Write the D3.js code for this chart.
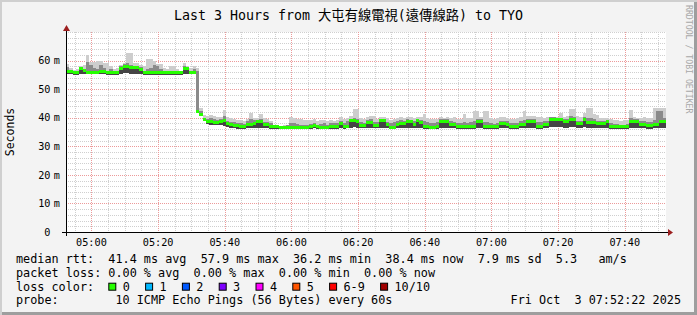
<!DOCTYPE html>
<html>
<head>
<meta charset="utf-8">
<script src="https://cdn.jsdelivr.net/npm/d3@7"></script>
<style>
  html, body { margin: 0; padding: 0; background: #f3f3f3; }
  svg { display: block; }
  text { font-family: "DejaVu Sans Mono", "Noto Sans CJK TC", monospace; white-space: pre; }
</style>
</head>
<body>
<svg id="chart" width="697" height="315"></svg>
<script>
// One value per 60 s step, 04:52:22 -> 07:52:22 (ms)
const START = new Date(2025, 9, 3, 4, 52, 22);
const STEP_SECONDS = 60;

const MEDIAN_MS = [
  56.2, 56.2, 55.7, 55.7, 57.4, 56.5, 55.8, 55.8, 55.8, 55.8,
  56.1, 56.1, 55.7, 55.7, 55.7, 55.7, 57.1, 57.8, 57.8, 57.5,
  57.5, 57.5, 57.0, 55.7, 55.7, 55.7, 55.7, 55.7, 55.7, 55.7,
  55.7, 55.7, 55.7, 55.7, 55.7, 57.3, 57.3, 56.0, 56.0, 42.3,
  41.2, 39.5, 38.6, 38.8, 38.5, 38.3, 38.8, 39.0, 37.9, 37.6,
  37.4, 37.2, 36.9, 36.9, 37.8, 37.8, 38.1, 38.6, 38.6, 37.6,
  37.5, 37.0, 36.8, 36.8, 36.7, 36.7, 36.7, 36.7, 36.7, 36.7,
  36.7, 36.7, 36.7, 36.8, 37.4, 36.8, 36.7, 36.7, 36.7, 36.8,
  36.8, 36.8, 37.9, 36.8, 37.0, 38.9, 38.9, 38.7, 37.2, 37.2,
  38.4, 38.4, 37.2, 37.2, 38.9, 38.9, 37.5, 36.7, 36.7, 37.8,
  38.0, 38.0, 38.7, 38.7, 37.5, 38.9, 38.2, 36.9, 36.8, 36.7,
  36.7, 36.8, 38.8, 38.8, 38.8, 37.8, 37.6, 36.8, 36.8, 36.8,
  36.8, 36.8, 36.8, 38.8, 38.8, 36.8, 36.8, 36.8, 36.8, 36.8,
  38.0, 38.0, 37.8, 36.8, 36.8, 36.8, 37.8, 37.8, 38.8, 38.8,
  38.8, 36.8, 36.8, 37.8, 37.8, 39.5, 39.5, 39.3, 39.3, 38.8,
  38.8, 39.5, 39.5, 38.0, 38.0, 39.4, 38.5, 38.5, 38.5, 37.9,
  37.9, 37.9, 38.7, 36.9, 36.9, 36.9, 36.8, 36.8, 36.8, 38.8,
  38.8, 38.8, 37.8, 37.8, 37.3, 37.3, 37.8, 37.8, 38.8, 38.8,
];

// Smoke: lowest ping, top of the darker band, highest ping
const SMOKE_LO_MS = [
  55.2, 55.2, 55.0, 55.0, 55.3, 55.3, 55.2, 55.2, 55.2, 55.2,
  55.4, 55.4, 55.1, 55.1, 55.1, 55.1, 55.3, 55.5, 55.5, 55.4,
  55.4, 55.4, 55.2, 55.1, 55.1, 55.1, 55.1, 55.1, 55.1, 55.1,
  55.1, 55.1, 55.1, 55.1, 55.1, 55.4, 55.4, 55.2, 55.2, 41.5,
  40.5, 38.8, 37.8, 37.6, 37.5, 37.4, 37.3, 37.0, 36.6, 36.4,
  36.3, 36.2, 36.2, 36.2, 36.3, 36.4, 36.4, 36.5, 36.4, 36.3,
  36.3, 36.2, 36.2, 36.2, 36.2, 36.2, 36.2, 36.2, 36.2, 36.2,
  36.2, 36.2, 36.2, 36.2, 36.3, 36.2, 36.2, 36.2, 36.2, 36.2,
  36.2, 36.2, 36.4, 36.2, 36.3, 36.5, 36.6, 36.5, 36.3, 36.3,
  36.4, 36.4, 36.3, 36.3, 36.5, 36.5, 36.3, 36.2, 36.2, 36.3,
  36.4, 36.4, 36.5, 36.5, 36.3, 36.5, 36.4, 36.2, 36.2, 36.2,
  36.2, 36.2, 36.4, 36.4, 36.4, 36.3, 36.3, 36.2, 36.2, 36.2,
  36.2, 36.2, 36.2, 36.4, 36.4, 36.2, 36.2, 36.2, 36.2, 36.2,
  36.3, 36.3, 36.3, 36.2, 36.2, 36.2, 36.3, 36.3, 36.4, 36.4,
  36.4, 36.2, 36.2, 36.3, 36.3, 36.6, 36.6, 36.6, 36.6, 36.4,
  36.4, 36.6, 36.6, 36.4, 36.4, 36.6, 36.4, 36.4, 36.4, 36.3,
  36.3, 36.3, 36.4, 36.2, 36.2, 36.2, 36.2, 36.2, 36.2, 36.4,
  36.4, 36.4, 36.3, 36.3, 36.2, 36.2, 36.3, 36.3, 36.4, 36.4,
];

const SMOKE_MID_MS = [
  57.8, 56.8, 56.2, 56.2, 57.8, 57.2, 59.5, 58.5, 57.5, 57.0,
  58.5, 57.5, 56.5, 57.2, 56.2, 56.5, 58.2, 58.8, 59.0, 58.5,
  58.2, 58.0, 57.6, 56.3, 57.0, 57.5, 58.5, 58.0, 57.0, 56.3,
  56.2, 56.5, 56.2, 56.2, 56.0, 58.0, 57.6, 56.5, 57.0, 56.5,
  42.5, 40.0, 39.6, 39.8, 39.5, 39.3, 39.6, 40.5, 39.0, 38.6,
  38.4, 38.3, 38.0, 37.8, 38.8, 39.4, 39.3, 39.3, 39.6, 38.6,
  38.5, 38.0, 37.2, 37.1, 37.1, 37.2, 37.3, 38.3, 38.0, 37.8,
  37.4, 37.3, 37.4, 37.8, 38.2, 37.5, 37.8, 38.2, 37.5, 38.2,
  38.0, 38.2, 38.8, 38.3, 38.7, 39.6, 40.0, 39.5, 38.6, 38.3,
  39.2, 39.4, 38.6, 38.4, 39.6, 39.5, 38.6, 38.2, 38.4, 38.8,
  39.2, 39.0, 39.4, 39.3, 38.8, 39.6, 39.2, 39.0, 38.4, 38.2,
  38.3, 38.4, 39.5, 39.4, 39.4, 38.8, 38.6, 38.2, 38.0, 38.6,
  38.3, 38.4, 39.0, 39.6, 39.5, 38.6, 38.6, 38.0, 37.8, 38.2,
  39.0, 39.0, 38.8, 38.2, 38.0, 38.2, 38.8, 39.2, 39.6, 39.6,
  39.5, 38.4, 38.6, 38.8, 38.8, 40.2, 40.2, 40.0, 40.0, 39.6,
  39.6, 40.5, 40.3, 39.0, 39.0, 40.2, 40.0, 40.0, 39.5, 39.0,
  38.8, 38.8, 39.3, 38.0, 37.8, 37.8, 37.6, 37.6, 37.8, 39.8,
  39.6, 39.5, 38.8, 38.8, 38.4, 38.4, 39.2, 42.3, 42.5, 40.0,
];

const SMOKE_HI_MS = [
  58.8, 57.5, 56.8, 57.0, 58.0, 58.5, 62.0, 59.5, 59.5, 60.0,
  60.0, 59.0, 59.0, 58.0, 57.0, 57.5, 58.5, 59.2, 62.6, 62.6,
  59.0, 59.0, 58.5, 58.0, 60.4, 60.4, 60.0, 58.8, 58.8, 57.5,
  57.0, 58.0, 58.0, 57.0, 56.5, 59.0, 58.0, 57.5, 58.0, 57.5,
  43.5, 40.8, 40.6, 40.8, 40.5, 40.2, 40.4, 42.7, 40.2, 39.8,
  39.4, 39.3, 39.2, 39.0, 39.6, 41.6, 40.0, 40.0, 41.3, 39.8,
  39.5, 39.0, 37.3, 37.2, 37.2, 37.3, 37.4, 40.2, 39.8, 39.6,
  39.5, 39.3, 39.2, 39.3, 39.5, 39.0, 39.3, 39.2, 38.8, 39.3,
  39.0, 39.3, 40.2, 39.5, 39.8, 40.5, 43.0, 43.0, 40.0, 39.6,
  40.3, 40.7, 40.7, 39.6, 40.3, 40.3, 39.8, 39.2, 39.5, 39.8,
  40.2, 40.0, 40.3, 40.2, 39.8, 40.4, 40.2, 41.3, 39.8, 39.5,
  39.5, 39.6, 40.3, 40.0, 40.2, 40.0, 40.3, 39.6, 39.4, 41.3,
  39.8, 40.0, 42.5, 42.5, 40.2, 42.2, 42.2, 39.8, 39.6, 39.8,
  40.3, 40.2, 40.0, 39.6, 39.5, 40.0, 40.3, 42.5, 40.5, 40.6,
  40.5, 40.2, 40.3, 40.0, 40.2, 40.4, 40.4, 40.4, 41.8, 40.4,
  40.6, 43.0, 43.0, 40.5, 40.2, 41.8, 43.3, 43.3, 41.3, 41.0,
  40.0, 40.0, 40.0, 39.6, 39.3, 39.3, 39.0, 39.2, 39.3, 42.6,
  40.2, 40.0, 39.8, 40.3, 39.8, 40.0, 43.3, 43.3, 43.3, 43.3,
];

const TITLE = 'Last 3 Hours from 大屯有線電視(遠傳線路) to TYO';
const Y_TITLE = 'Seconds';
const STATS_LINES = [
  'median rtt:  41.4 ms avg  57.9 ms max  36.2 ms min  38.4 ms now  7.9 ms sd  5.3   am/s',
  'packet loss: 0.00 % avg  0.00 % max  0.00 % min  0.00 % now',
];
const LOSS_LABELS = ['0', '1', '2', '3', '4', '5', '6-9', '10/10'];
const LOSS_COLORS = ['#26ff00', '#00b8ff', '#0059ff', '#7e00ff', '#ff00ff', '#ff5500', '#ff0000', '#a00000'];
const PROBE_LINE = 'probe:        10 ICMP Echo Pings (56 Bytes) every 60s';
const DATE_LINE = 'Fri Oct  3 07:52:22 2025';

const W = 697, H = 315;
const plot = {left: 66, right: 666, top: 32, bottom: 232};
const CHAR_W = 7.1; // legend monospace advance

const svg = d3.select('#chart');

// frame
svg.append('rect').attr('width', W).attr('height', H).attr('fill', '#f3f3f3');
svg.append('rect').attr('width', W).attr('height', 2).attr('fill', '#cfcfcf');
svg.append('rect').attr('width', 2).attr('height', H).attr('fill', '#cfcfcf');
svg.append('rect').attr('x', 2).attr('y', H - 3).attr('width', W - 2).attr('height', 3).attr('fill', '#9e9e9e');
svg.append('rect').attr('x', W - 3).attr('y', 2).attr('width', 3).attr('height', H - 2).attr('fill', '#9e9e9e');

svg.append('rect')
  .attr('x', plot.left).attr('y', plot.top)
  .attr('width', plot.right - plot.left).attr('height', plot.bottom - plot.top)
  .attr('fill', '#ffffff');

const n = MEDIAN_MS.length;
const stepTime = (k) => new Date(START.getTime() + k * STEP_SECONDS * 1000);

const x = d3.scaleTime()
  .domain([START, stepTime(n)])
  .range([plot.left, plot.right]);

const y = d3.scaleLinear()
  .domain([0, 70])
  .range([plot.bottom, plot.top]);

const px = (v) => Math.round(v) + 0.5;

// grid
const grid = svg.append('g').attr('stroke-width', 1).attr('stroke-dasharray', '1,1');

const minorY = y.ticks(35).filter((v) => v % 10 !== 0 || v === 70);
const majorY = y.ticks(7).filter((v) => v > 0 && v < 70);
const minorX = x.ticks(d3.timeMinute.every(5));
const majorX = x.ticks(d3.timeMinute.every(20));

grid.selectAll('.minor-y')
  .data(minorY)
  .join('line')
    .attr('x1', plot.left).attr('x2', plot.right)
    .attr('y1', (d) => px(y(d))).attr('y2', (d) => px(y(d)))
    .attr('stroke', '#cfcfcf');

grid.selectAll('.minor-x')
  .data(minorX.filter((t) => t.getMinutes() % 20 !== 0))
  .join('line')
    .attr('x1', (d) => px(x(d))).attr('x2', (d) => px(x(d)))
    .attr('y1', plot.top).attr('y2', plot.bottom)
    .attr('stroke', '#cfcfcf');

grid.selectAll('.major-y')
  .data(majorY)
  .join('line')
    .attr('x1', plot.left).attr('x2', plot.right)
    .attr('y1', (d) => px(y(d))).attr('y2', (d) => px(y(d)))
    .attr('stroke', '#ec9a9a');

grid.selectAll('.major-x')
  .data(majorX)
  .join('line')
    .attr('x1', (d) => px(x(d))).attr('x2', (d) => px(x(d)))
    .attr('y1', plot.top).attr('y2', plot.bottom)
    .attr('stroke', '#ec9a9a');

// smoke
const rows = d3.range(n + 1).map((k) => {
  const i = Math.min(k, n - 1);
  return {t: stepTime(k), med: MEDIAN_MS[i], lo: SMOKE_LO_MS[i], mid: SMOKE_MID_MS[i], hi: SMOKE_HI_MS[i]};
});

const band = (top) => d3.area()
  .curve(d3.curveStepAfter)
  .x((d) => x(d.t))
  .y0((d) => y(d.lo))
  .y1((d) => y(d[top]));

const smoke = svg.append('g').attr('shape-rendering', 'crispEdges');
smoke.append('path').datum(rows).attr('d', band('hi')).attr('fill', '#cdcdcd');
smoke.append('path').datum(rows).attr('d', band('mid')).attr('fill', '#8a8a8a');
smoke.append('path').datum(rows).attr('d', band('med')).attr('fill', '#454545');

// median, coloured by loss (all 0 % here)
svg.append('g')
  .attr('shape-rendering', 'crispEdges')
  .selectAll('rect')
  .data(rows.slice(0, n))
  .join('rect')
    .attr('x', (d, i) => x(d.t))
    .attr('width', (d, i) => x(rows[i + 1].t) - x(d.t))
    .attr('y', (d) => y(d.med) - 1.5)
    .attr('height', 3)
    .attr('fill', LOSS_COLORS[0]);

// axes
const axis = svg.append('g').attr('stroke', '#000').attr('stroke-width', 1);
axis.append('line').attr('x1', plot.left - 4).attr('x2', plot.right + 4)
  .attr('y1', plot.bottom + 0.5).attr('y2', plot.bottom + 0.5);
axis.append('line').attr('x1', plot.left + 0.5).attr('x2', plot.left + 0.5)
  .attr('y1', plot.bottom + 4).attr('y2', plot.top - 4);

svg.append('path')
  .attr('d', `M${plot.left - 3},${plot.top - 1}L${plot.left + 4},${plot.top - 1}L${plot.left + 0.5},${plot.top - 7}Z`)
  .attr('fill', '#9c1f1f');
svg.append('path')
  .attr('d', `M${plot.right + 2},${plot.bottom - 3}L${plot.right + 2},${plot.bottom + 4}L${plot.right + 7},${plot.bottom + 0.5}Z`)
  .attr('fill', '#9c1f1f');

// tick labels
const tickFont = '10.2px';

svg.append('g')
  .selectAll('text')
  .data(majorX)
  .join('text')
    .attr('x', (d) => x(d))
    .attr('y', 246)
    .attr('text-anchor', 'middle')
    .style('font-size', tickFont)
    .text(d3.timeFormat('%H:%M'));

const yLabels = svg.append('g').style('font-size', tickFont);
yLabels.selectAll('.num')
  .data(y.ticks(7).filter((v) => v < 70))
  .join('text')
    .attr('x', 50.5)
    .attr('y', (d) => y(d) + 3.7)
    .attr('text-anchor', 'end')
    .text((d) => d);
yLabels.selectAll('.unit')
  .data(y.ticks(7).filter((v) => v > 0 && v < 70))
  .join('text')
    .attr('x', 53.8)
    .attr('y', (d) => y(d) + 3.7)
    .text('m');

// titles
svg.append('text')
  .attr('x', W / 2).attr('y', 19.5)
  .attr('text-anchor', 'middle')
  .style('font-size', '13.3px')
  .text(TITLE);

svg.append('text')
  .attr('transform', `translate(14, ${(plot.top + plot.bottom) / 2}) rotate(-90)`)
  .attr('text-anchor', 'middle')
  .style('font-size', '11.5px')
  .text(Y_TITLE);

svg.append('text')
  .attr('transform', 'translate(686, 5) rotate(90)')
  .style('font-size', '8.2px')
  .attr('fill', '#a8a8a8')
  .text('RRDTOOL / TOBI OETIKER');

// legend
const legend = svg.append('g').style('font-size', '11.8px');
const rowY = [263.3, 277, 290.7, 304.4];

legend.selectAll('.stat')
  .data(STATS_LINES)
  .join('text')
    .attr('x', 16)
    .attr('y', (d, i) => rowY[i])
    .text((d) => d);

legend.append('text').attr('x', 16).attr('y', rowY[2]).text('loss color:');

let boxX = 16 + 13 * CHAR_W;
LOSS_LABELS.forEach((label, i) => {
  legend.append('rect')
    .attr('x', boxX + 0.5).attr('y', rowY[2] - 7.5)
    .attr('width', 7).attr('height', 7)
    .attr('fill', LOSS_COLORS[i])
    .attr('stroke', '#000');
  legend.append('text').attr('x', boxX + 14.4).attr('y', rowY[2]).text(label);
  boxX += 14.4 + label.length * CHAR_W + 15.3;
});

legend.append('text').attr('x', 16).attr('y', rowY[3]).text(PROBE_LINE);
legend.append('text').attr('x', 681).attr('y', rowY[3]).attr('text-anchor', 'end').text(DATE_LINE);
</script>
</body>
</html>
